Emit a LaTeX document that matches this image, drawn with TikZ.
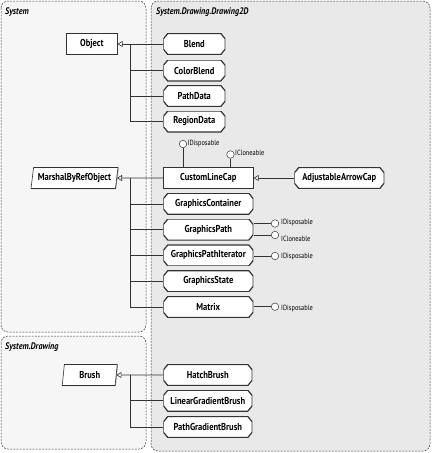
\documentclass[tikz,border=0pt]{standalone}
\usepackage{fontspec}
\setmainfont{PT Sans}[FakeStretch=0.85]
\usepackage{xcolor}
\usetikzlibrary{shapes.geometric,arrows.meta,positioning,calc,shadows}

\definecolor{leftfill}{HTML}{F6F6F6}
\definecolor{rightfill}{HTML}{E9E9E9}
\definecolor{edgegray}{HTML}{333333}

\begin{document}
\begin{tikzpicture}[
        x=1pt, y=-1pt,
        >={Triangle[open,length=5pt,width=6pt]},
        every node/.style={font=\bfseries\fontsize{10}{11}\selectfont},
        panel/.style={draw=edgegray, dash pattern=on 2pt off 1.2pt, rounded corners=7pt, line width=0.5pt},
        title/.style={anchor=west, font=\bfseries\itshape\fontsize{9.5}{11}\selectfont, inner sep=0pt},
        conn/.style={draw=edgegray, line width=0.6pt},
        cls/.style={draw=edgegray, fill=white, anchor=west, minimum height=21pt, inner sep=1pt, line width=0.6pt},
        boxed/.style={cls, drop shadow={shadow xshift=0.7pt, shadow yshift=-0.7pt, fill=gray!80, opacity=1}},
        struct/.style={cls, draw=none, fill=none,
          path picture={
            \path[draw=edgegray, line width=1.2pt, fill=white]
              ([xshift=4.5pt]path picture bounding box.north west)
              -- ([xshift=-4.5pt]path picture bounding box.north east)
              -- ([yshift=-5.5pt]path picture bounding box.north east)
              -- ([yshift=5.5pt]path picture bounding box.south east)
              -- ([xshift=-4.5pt]path picture bounding box.south east)
              -- ([xshift=4.5pt]path picture bounding box.south west)
              -- ([yshift=5.5pt]path picture bounding box.south west)
              -- ([yshift=-5.5pt]path picture bounding box.north west)
              -- cycle;}},
        abstr/.style={boxed, trapezium, trapezium left angle=77, trapezium right angle=103, trapezium stretches body},
        lolli/.style={circle, draw=edgegray, fill=white, minimum size=7.5pt, inner sep=0pt, line width=0.5pt},
        iface/.style={anchor=west, inner sep=1pt, font=\fontsize{7.5}{8}\selectfont}
      ]

        % Namespaces ----------------------------------------------
        \draw[panel, fill=rightfill] (151,1) rectangle (430,451);
        \draw[panel, fill=leftfill]  (1,1)   rectangle (146,332);
        \draw[panel, fill=leftfill]  (1,336) rectangle (146,449);

        \node[title] (nssystem)  at (5,12)   {System};
        \node[title] (nsdrawing2d) at (156,12) {System.Drawing.Drawing2D};
        \node[title] (nsdrawing) at (5,347)  {System.Drawing};

        % System.Object and its structs ---------------------------
        \node[boxed, minimum width=51pt] (object) at (66,44) {Object};

        \node[struct, minimum width=62pt] (blend)      at (163,44)    {Blend};
        \node[struct, minimum width=62pt] (colorblend) at (163,70.5)  {ColorBlend};
        \node[struct, minimum width=62pt] (pathdata)   at (163,96)    {PathData};
        \node[struct, minimum width=62pt] (regiondata) at (163,121.5) {RegionData};

        \coordinate (objtrunk) at (130,44);
        \draw[conn] (regiondata.west) -| (objtrunk);
        \foreach \n in {colorblend,pathdata}
          \draw[conn] (\n.west) -- (\n.west -| objtrunk);
        \draw[conn,->] (blend) -- (object);

        % MarshalByRefObject and its subclasses -------------------
        \node[abstr, minimum width=87pt] (marshal) at (32,178) {MarshalByRefObject};

        \node[boxed, minimum width=90pt]  (customlinecap)        at (163,178)   {CustomLineCap};
        \node[struct, minimum width=90pt] (graphicscontainer)    at (163,203.8) {GraphicsContainer};
        \node[struct, minimum width=90pt] (graphicspath)         at (163,229.6) {GraphicsPath};
        \node[struct, minimum width=90pt] (graphicspathiterator) at (163,255.4) {GraphicsPathIterator};
        \node[struct, minimum width=90pt] (graphicsstate)        at (163,281.2) {GraphicsState};
        \node[struct, minimum width=90pt] (matrixcls)            at (163,307)   {Matrix};

        \node[struct, minimum width=90pt] (arrowcap) at (294,178) {AdjustableArrowCap};

        \coordinate (mbrtrunk) at (130,178);
        \draw[conn] (matrixcls.west) -| (mbrtrunk);
        \foreach \n in {graphicscontainer,graphicspath,graphicspathiterator,graphicsstate}
          \draw[conn] (\n.west) -- (\n.west -| mbrtrunk);
        \draw[conn,->] (customlinecap) -- (marshal);
        \draw[conn,->] (arrowcap) -- (customlinecap);

        % Interfaces (lollipops) ----------------------------------
        \node[lolli] (clcdisp)  at (183,144)   {};
        \node[lolli] (clcclone) at (230.5,154.5) {};
        \node[iface] (clcdisptxt)  at ([xshift=-0.5pt]clcdisp.east)  {IDisposable};
        \node[iface] (clcclonetxt) at ([xshift=-0.5pt,yshift=2pt]clcclone.east) {ICloneable};
        \draw[conn] (clcdisp) -- (clcdisp |- customlinecap.north);
        \draw[conn] (clcclone) -- (clcclone |- customlinecap.north);

        \node[lolli] (gpdisp)  at (275,223.5) {};
        \node[lolli] (gpclone) at (275,235)   {};
        \node[iface] (gpdisptxt)  at ([xshift=1pt,yshift=1pt]gpdisp.east)   {IDisposable};
        \node[iface] (gpclonetxt) at ([xshift=1pt,yshift=-4pt]gpclone.east) {ICloneable};
        \draw[conn] (gpdisp) -- (gpdisp -| graphicspath.east);
        \draw[conn] (gpclone) -- (gpclone -| graphicspath.east);

        \node[lolli] (gpidisp) at (275,256) {};
        \node[iface] (gpidisptxt) at ([xshift=1pt,yshift=-1pt]gpidisp.east) {IDisposable};
        \draw[conn] (gpidisp) -- (gpidisp -| graphicspathiterator.east);

        \node[lolli] (mxdisp) at (275,306.7) {};
        \node[iface] (mxdisptxt) at ([xshift=1pt,yshift=-2pt]mxdisp.east) {IDisposable};
        \draw[conn] (mxdisp) -- (mxdisp -| matrixcls.east);

        % Brush and its subclasses --------------------------------
        \node[abstr, minimum width=55pt] (brush) at (63,375) {Brush};

        \node[struct, minimum width=89pt] (hatchbrush)  at (163,375)   {HatchBrush};
        \node[struct, minimum width=89pt] (lineargrad)  at (163,400.7) {LinearGradientBrush};
        \node[struct, minimum width=89pt] (pathgrad)    at (163,427)   {PathGradientBrush};

        \coordinate (brushtrunk) at (130,375);
        \draw[conn] (pathgrad.west) -| (brushtrunk);
        \draw[conn] (lineargrad.west) -- (lineargrad.west -| brushtrunk);
        \draw[conn,->] (hatchbrush) -- (brush);

        \useasboundingbox (0,0) rectangle (432,453);
      \end{tikzpicture}
\end{document}
